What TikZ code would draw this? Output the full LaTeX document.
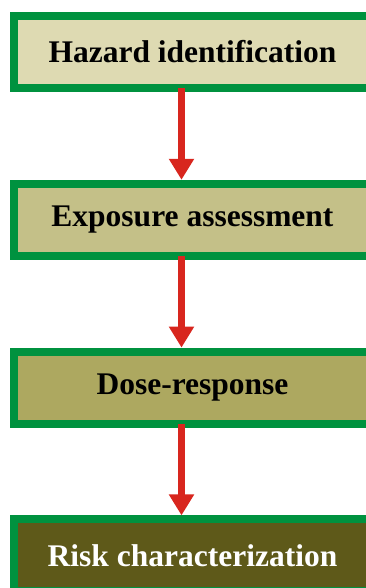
\documentclass[tikz,border=0pt]{standalone}
\usepackage{fontspec}
\setmainfont{Liberation Serif}
\usetikzlibrary{arrows.meta}
\definecolor{framegreen}{HTML}{00923F}
\definecolor{arrowred}{HTML}{D8261E}
\definecolor{fillone}{HTML}{DEDAB2}
\definecolor{filltwo}{HTML}{C4C088}
\definecolor{fillthree}{HTML}{ADA860}
\definecolor{fillfour}{HTML}{5E5919}
\begin{document}
\begin{tikzpicture}
[stagedecorate/.style={shape=rectangle,draw=framegreen,line width=8pt,
    minimum width=357pt,minimum height=72pt,inner sep=0pt,outer sep=0pt,
    font=\fontsize{31.5}{36}\selectfont\bfseries},%
  arrowdecorate/.style={draw=arrowred,line width=7pt,
    -{Triangle[width=24pt,length=21pt]}}]
\path[use as bounding box,clip] (0,0) rectangle (366pt,-588pt);
%% stages
\foreach \nodename/\y/\fillcol/\textcol/\label in
  {hazard/52/fillone/black/Hazard identification,
   exposure/219.8/filltwo/black/Exposure assessment,
   dose/387.6/fillthree/black/Dose-response,
   risk/555.4/fillfour/white/Risk characterization}
{
  \node (\nodename) at (192.5pt,-\y pt) [stagedecorate,fill=\fillcol,text=\textcol] {\label};
}
%% arrows between stages
\path
\foreach \startnode/\endnode in {hazard/exposure, exposure/dose, dose/risk}
{
  ([xshift=-11pt]\startnode.south) edge[arrowdecorate] ([xshift=-11pt,yshift=4pt]\endnode.north)
};
\end{tikzpicture}
\end{document}
